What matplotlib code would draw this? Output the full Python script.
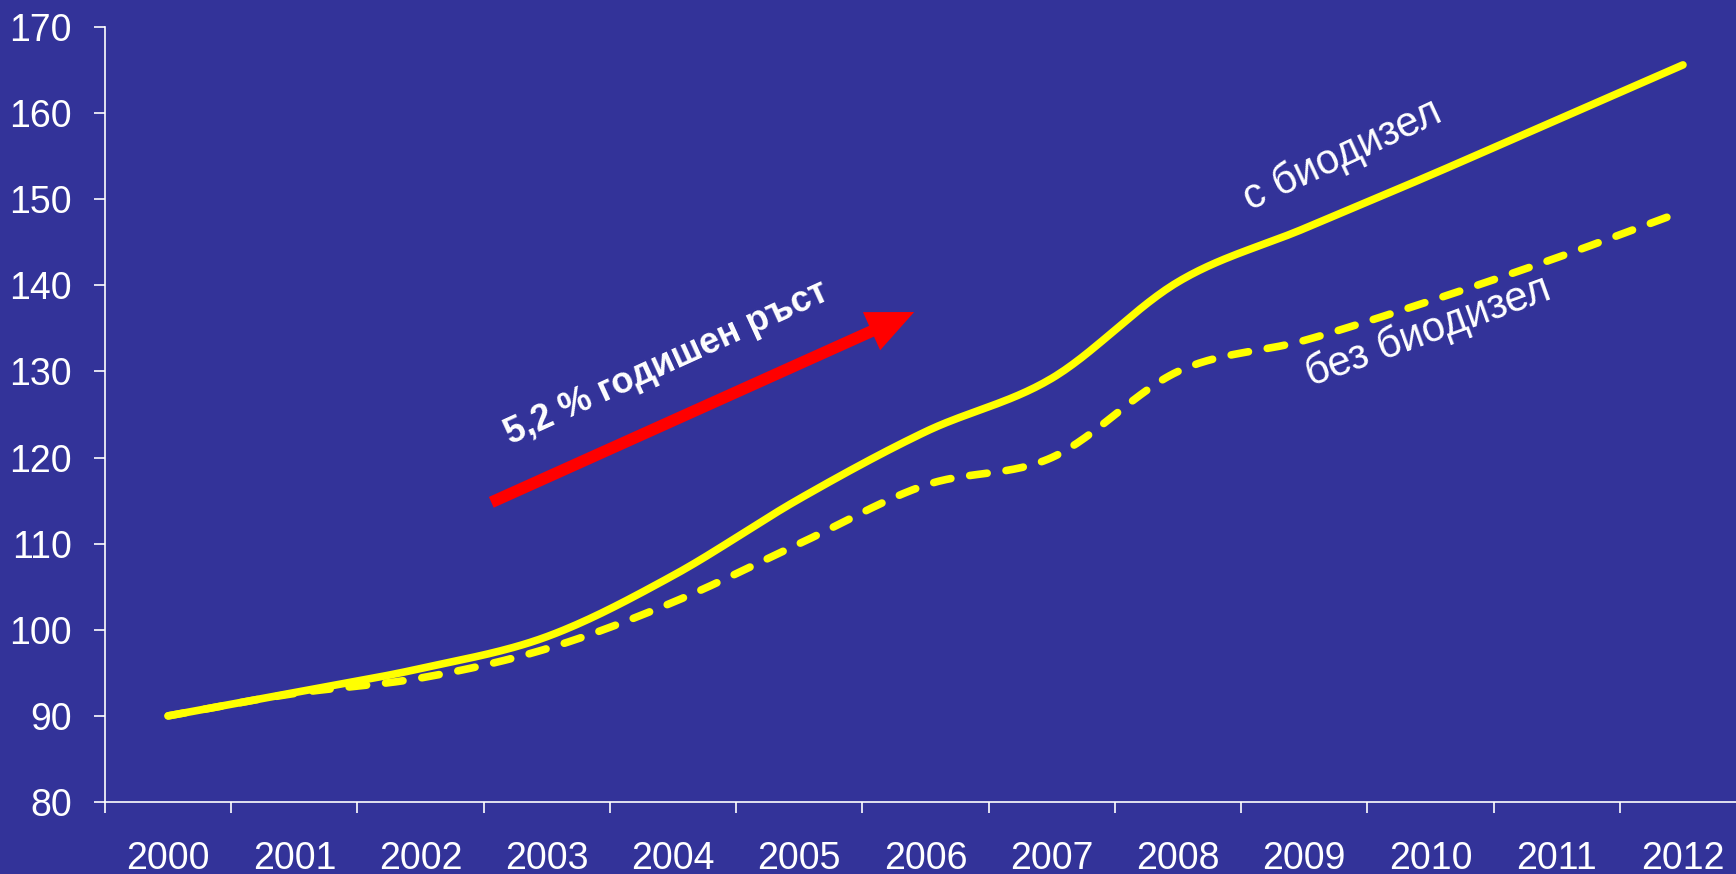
import matplotlib
matplotlib.use('Agg')
import matplotlib.pyplot as plt
import numpy as np

years = ['2000', '2001', '2002', '2003', '2004', '2005', '2006',
         '2007', '2008', '2009', '2010', '2011', '2012']
with_biodiesel    = [90, 92.7, 95.5, 99.2, 106.3, 115.2, 123.0, 129.2, 140.4, 146.6, 152.8, 159.2, 165.6]
without_biodiesel = [90, 92.6, 94.4, 97.8, 103.2, 110.0, 116.8, 120.0, 130.0, 133.6, 138.2, 143.2, 148.6]

label_with    = 'с биодизел'
label_without = 'без биодизел'
growth_text   = '5,2 % годишен ръст'

BG = '#333399'
YELLOW = '#FFFF00'


def smooth(x, y, n=30):
    # Catmull-Rom curve through the points (like Excel's smoothed line)
    x = np.asarray(x, float); y = np.asarray(y, float)
    px = np.concatenate([[2 * x[0] - x[1]], x, [2 * x[-1] - x[-2]]])
    py = np.concatenate([[2 * y[0] - y[1]], y, [2 * y[-1] - y[-2]]])
    xs, ys = [], []
    t = np.linspace(0, 1, n, endpoint=False)
    for i in range(1, len(px) - 2):
        for p, out in ((px, xs), (py, ys)):
            p0, p1, p2, p3 = p[i - 1], p[i], p[i + 1], p[i + 2]
            out.extend(0.5 * ((2 * p1) + (-p0 + p2) * t
                              + (2 * p0 - 5 * p1 + 4 * p2 - p3) * t ** 2
                              + (-p0 + 3 * p1 - 3 * p2 + p3) * t ** 3))
    xs.append(x[-1]); ys.append(y[-1])
    return np.array(xs), np.array(ys)


plt.rcParams['font.family'] = ['Liberation Sans', 'DejaVu Sans']

fig = plt.figure(figsize=(17.36, 8.74), dpi=100, facecolor=BG)
ax = fig.add_axes([0.0605, 0.0824, 0.9453, 0.8867], facecolor=BG)

xi = np.arange(len(years))
sx, sy = smooth(xi, with_biodiesel)
ax.plot(sx, sy, color=YELLOW, lw=5.5, solid_capstyle='round', clip_on=False)
dx, dy = smooth(xi, without_biodiesel)
ax.plot(dx, dy, color=YELLOW, lw=5.5, dashes=(2.3, 2.5), dash_capstyle='round', clip_on=False)

ax.annotate('', xy=(5.91, 136.9), xytext=(2.56, 114.8),
            arrowprops=dict(arrowstyle='-|>,head_length=1.9,head_width=0.85',
                            color='#FF0000', lw=8.5, shrinkA=0, shrinkB=0,
                            capstyle='butt', joinstyle='miter'))
ax.text(3.95, 131.0, growth_text, color='white', fontsize=26, fontweight='bold',
        rotation=24.5, rotation_mode='anchor', ha='center', va='center')
ax.text(9.30, 155.1, label_with, color='white', fontsize=30,
        rotation=25, rotation_mode='anchor', ha='center', va='center')
ax.text(9.98, 134.6, label_without, color='white', fontsize=30,
        rotation=20, rotation_mode='anchor', ha='center', va='center')

ax.set_xlim(-0.5, len(years) - 0.5)
ax.set_ylim(80, 170)
ax.set_yticks(np.arange(80, 171, 10))
ax.set_xticks(xi)
ax.set_xticklabels(years)
ax.set_xticks(np.arange(-0.5, len(years), 1), minor=True)

for s in ('top', 'right'):
    ax.spines[s].set_visible(False)
for s in ('left', 'bottom'):
    ax.spines[s].set_color('white')
    ax.spines[s].set_linewidth(1.2)

ax.tick_params(axis='y', colors='white', labelsize=27, length=8, width=1.2, pad=16)
ax.tick_params(axis='x', which='major', colors='white', labelsize=27, length=0, pad=28)
ax.tick_params(axis='x', which='minor', colors='white', length=8, width=1.2)

fig.savefig('out.png', dpi=100, facecolor=BG)
